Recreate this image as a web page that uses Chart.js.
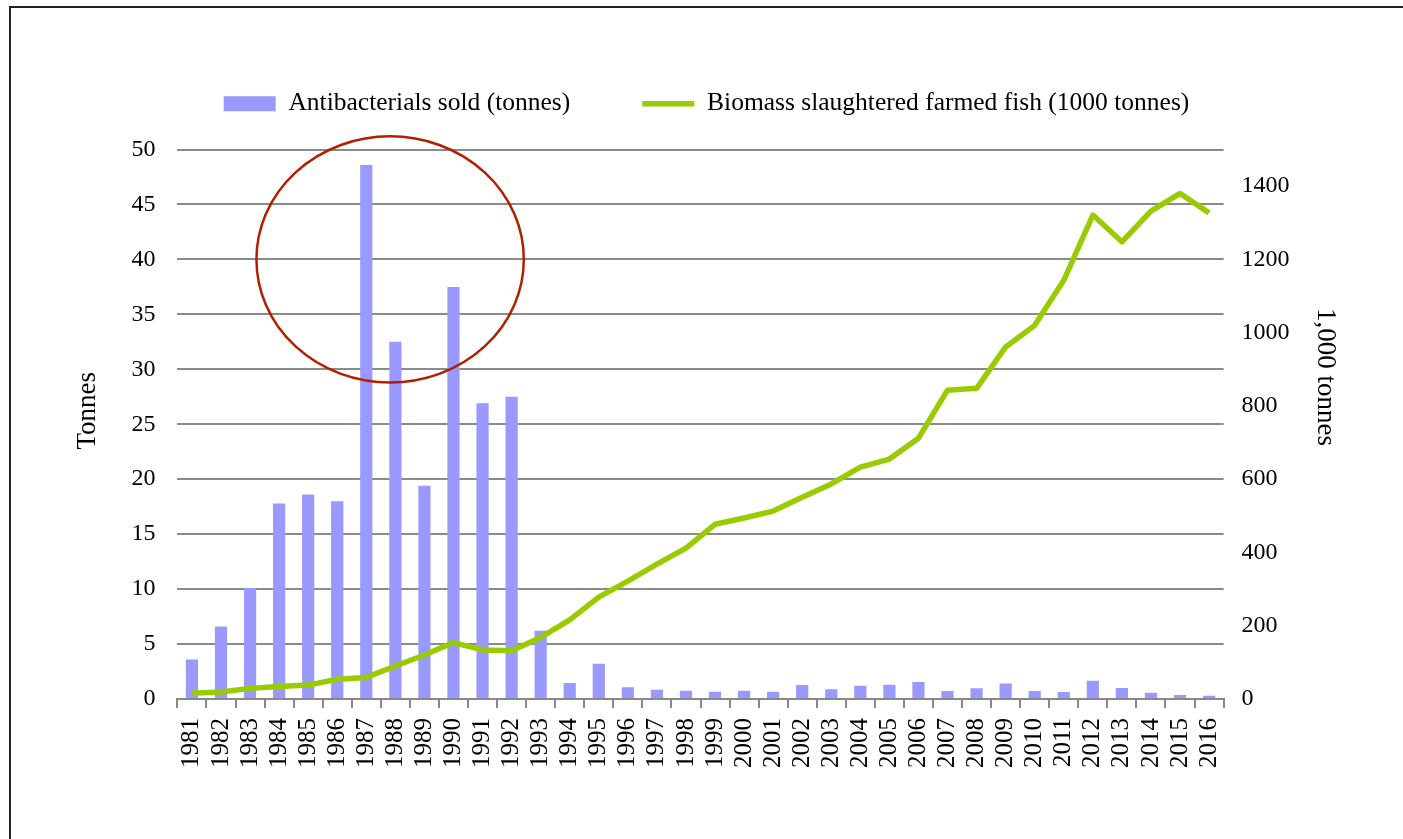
<!DOCTYPE html>
<html>
<head>
<meta charset="utf-8">
<script src="https://cdn.jsdelivr.net/npm/chart.js@4.4.0/dist/chart.umd.min.js"></script>
<style>
    html, body { margin: 0; padding: 0; background: #fff; overflow: hidden; }
    #frame { position: absolute; left: 9px; top: 6px; width: 1500px; height: 1000px;
             border-top: 2px solid #222; border-left: 2px solid #222; pointer-events: none; }
    #wrap { position: absolute; left: 0; top: 0; width: 1403px; height: 839px; }
</style>
</head>
<body>
<div id="wrap"><canvas id="chart" width="1403" height="839"></canvas></div>
<div id="frame"></div>
<script>
// Data
const years = ['1981','1982','1983','1984','1985','1986','1987','1988','1989','1990',
               '1991','1992','1993','1994','1995','1996','1997','1998','1999','2000',
               '2001','2002','2003','2004','2005','2006','2007','2008','2009','2010',
               '2011','2012','2013','2014','2015','2016'];

// Antibacterials sold (tonnes), left axis
const antibacterials = [3.6, 6.6, 10.1, 17.8, 18.6, 18.0, 48.6, 32.5, 19.4, 37.5,
                        26.9, 27.5, 6.2, 1.45, 3.2, 1.07, 0.85, 0.76, 0.67, 0.76,
                        0.67, 1.27, 0.88, 1.2, 1.3, 1.55, 0.73, 0.97, 1.4, 0.73,
                        0.64, 1.67, 1.0, 0.57, 0.36, 0.3];

// Biomass slaughtered farmed fish (1000 tonnes), right axis
const biomass = [16, 19, 29, 34, 38, 54, 59, 90, 120, 154,
                 134, 132, 168, 216, 278, 322, 368, 412, 477, 494,
                 513, 551, 587, 633, 655, 712, 843, 848, 961, 1020,
                 1143, 1321, 1248, 1332, 1380, 1327];

const leftTicks = [0, 50, 5];      // min, max, step
const rightTicks = [0, 1500, 200]; // min, max, step (labels up to 1400)

// highlight ring around the 1987-1990 peak, in data units
const ring = { centre: 6.82, value: 40, rx: 4.6, ry: 11.2 };

const serif = "'Liberation Serif', 'Times New Roman', serif";

const ringPlugin = {
    id: 'ring',
    afterDatasetsDraw(chart) {
        const x = chart.scales.x, y = chart.scales.y;
        const cx = x.getPixelForValue(ring.centre);
        const cy = y.getPixelForValue(ring.value);
        const rx = Math.abs(x.getPixelForValue(ring.centre + ring.rx) - cx);
        const ry = Math.abs(y.getPixelForValue(ring.value + ring.ry) - cy);
        const ctx = chart.ctx;
        ctx.save();
        ctx.beginPath();
        ctx.ellipse(cx, cy, rx, ry, 0, 0, Math.PI * 2);
        ctx.strokeStyle = '#b02000';
        ctx.lineWidth = 2.5;
        ctx.stroke();
        ctx.restore();
    }
};

// extra room between legend and plot
const legendGap = {
    id: 'legendGap',
    beforeInit(chart) {
        const fit = chart.legend.fit;
        chart.legend.fit = function () {
            fit.call(this);
            this.height += 23;
        };
    }
};

// the axis titles sit a little above the middle in the original, padded with spaces
const pad = n => ' '.repeat(n);

new Chart(document.getElementById('chart'), {
    type: 'bar',
    data: {
        labels: years,
        datasets: [
            {
                label: 'Antibacterials sold (tonnes)',
                data: antibacterials,
                backgroundColor: '#9999ff',
                borderWidth: 0,
                barPercentage: 0.42,
                categoryPercentage: 1,
                yAxisID: 'y',
                pointStyle: 'rect',
                order: 1
            },
            {
                type: 'line',
                label: 'Biomass slaughtered farmed fish (1000 tonnes)',
                data: biomass,
                borderColor: '#99cc00',
                backgroundColor: '#99cc00',
                borderWidth: 5.5,
                borderJoinStyle: 'round',
                pointRadius: 0,
                pointStyle: 'line',
                tension: 0,
                yAxisID: 'y1',
                order: 0
            }
        ]
    },
    options: {
        responsive: false,
        animation: false,
        devicePixelRatio: 1,
        layout: { padding: { top: 19, left: 72, right: 62, bottom: 61 } },
        plugins: {
            legend: {
                position: 'top',
                labels: {
                    usePointStyle: true,
                    pointStyleWidth: 52,
                    boxHeight: 15,
                    padding: 72,
                    color: '#000',
                    font: { family: serif, size: 25.5 },
                    sort: (a, b) => a.datasetIndex - b.datasetIndex
                }
            },
            tooltip: { enabled: false }
        },
        scales: {
            x: {
                offset: true,
                grid: { drawOnChartArea: false, drawTicks: true, tickLength: 9, color: '#888', lineWidth: 2 },
                border: { display: true, color: '#888', width: 2 },
                ticks: { color: '#000', font: { family: serif, size: 25 }, minRotation: 90, maxRotation: 90, autoSkip: false, padding: 10 }
            },
            y: {
                position: 'left',
                min: leftTicks[0], max: leftTicks[1],
                grid: { color: '#8a8a8a', lineWidth: 2, drawTicks: false },
                border: { display: false },
                ticks: { stepSize: leftTicks[2], color: '#000', font: { family: serif, size: 24 }, padding: 22 },
                title: { display: true, text: pad(4) + 'Tonnes', color: '#000', font: { family: serif, size: 27 }, padding: { top: 0, bottom: 5 } }
            },
            y1: {
                position: 'right',
                min: rightTicks[0], max: rightTicks[1],
                grid: { drawOnChartArea: false, drawTicks: false },
                border: { display: false },
                ticks: { stepSize: rightTicks[2], color: '#000', font: { family: serif, size: 24 }, padding: 18, callback: v => String(v) },
                afterBuildTicks: s => { s.ticks = s.ticks.filter(t => t.value <= 1400); },
                title: { display: true, text: '1,000 tonnes' + pad(14), color: '#000', font: { family: serif, size: 27 }, padding: { top: 0, bottom: 1 } }
            }
        }
    },
    plugins: [ringPlugin, legendGap]
});
</script>
</body>
</html>
